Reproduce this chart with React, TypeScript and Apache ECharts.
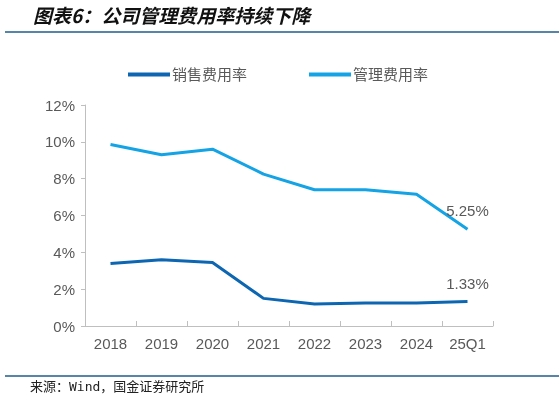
import { useEffect, useRef } from 'react'
import * as echarts from 'echarts'

const categories = ['2018', '2019', '2020', '2021', '2022', '2023', '2024', '25Q1']
const salesRate = [3.4, 3.6, 3.45, 1.5, 1.2, 1.25, 1.25, 1.33]
const adminRate = [9.85, 9.3, 9.6, 8.25, 7.4, 7.4, 7.15, 5.25]
const seriesNames = ['销售费用率', '管理费用率']
const title = '图表6：公司管理费用率持续下降'
const source = '来源：Wind，国金证券研究所'

const DARK = '#0c66b1'
const LIGHT = '#14a3e5'
const TEXT = '#595959'
const RULE = '#1f5d8c'

// 只给最后一个点加数值标签
function lastLabel(data: number[]) {
  return data.map((v, i) =>
    i === data.length - 1
      ? {
          value: v,
          label: {
            show: true,
            position: 'top',
            distance: 11,
            formatter: (p: any) => Number(p.value).toFixed(2) + '%',
            color: TEXT,
            fontSize: 15,
          },
        }
      : v,
  )
}

export default function App() {
  const elRef = useRef<HTMLDivElement>(null)

  useEffect(() => {
    if (!elRef.current) return
    const chart = echarts.init(elRef.current, undefined, { renderer: 'svg' })
    chart.setOption({
      animation: false,
      textStyle: { fontFamily: 'Arial, "Liberation Sans", "Noto Sans CJK SC", sans-serif' },
      grid: { left: 85, right: 66, top: 105, bottom: 80 },
      legend: {
        left: 123,
        top: 62,
        icon: 'rect',
        itemWidth: 42,
        itemHeight: 4,
        itemGap: 62,
        textStyle: { color: TEXT, fontSize: 15, padding: [0, 0, 0, -3] },
        data: seriesNames,
      },
      xAxis: {
        type: 'category',
        data: categories,
        boundaryGap: true,
        axisLine: { lineStyle: { color: '#bfbfbf' } },
        axisTick: { show: true, inside: true, length: 5, lineStyle: { color: '#bfbfbf' } },
        axisLabel: { color: TEXT, fontSize: 15, margin: 10 },
      },
      yAxis: {
        type: 'value',
        min: 0,
        max: 12,
        interval: 2,
        axisLine: { show: true, lineStyle: { color: '#bfbfbf' } },
        axisTick: { show: true, length: 4, lineStyle: { color: '#bfbfbf' } },
        splitLine: { show: false },
        axisLabel: { color: TEXT, fontSize: 15, margin: 10, formatter: '{value}%' },
      },
      series: [
        {
          name: seriesNames[0],
          type: 'line',
          data: lastLabel(salesRate),
          symbol: 'circle',
          symbolSize: 0,
          showSymbol: true,
          lineStyle: { color: DARK, width: 3 },
          itemStyle: { color: DARK },
        },
        {
          name: seriesNames[1],
          type: 'line',
          data: lastLabel(adminRate),
          symbol: 'circle',
          symbolSize: 0,
          showSymbol: true,
          lineStyle: { color: LIGHT, width: 3 },
          itemStyle: { color: LIGHT },
        },
      ],
      graphic: [
        {
          type: 'text',
          left: 33,
          top: 5,
          style: {
            text: title,
            fontSize: 19,
            fontWeight: 'bold',
            fontStyle: 'italic',
            fill: '#111',
            fontFamily: '"Noto Sans CJK SC", sans-serif',
          },
        },
        {
          type: 'line',
          shape: { x1: 5, y1: 32, x2: 559, y2: 32 },
          style: { stroke: RULE, lineWidth: 1.5 },
        },
        {
          type: 'line',
          shape: { x1: 5, y1: 376, x2: 559, y2: 376 },
          style: { stroke: RULE, lineWidth: 1.5 },
        },
        {
          type: 'text',
          left: 30,
          top: 380,
          style: {
            text: source,
            fontSize: 13,
            fill: '#222',
            fontFamily: '"DejaVu Sans Mono", "Noto Sans CJK SC", monospace',
          },
        },
      ],
    })
    return () => chart.dispose()
  }, [])

  return <div ref={elRef} style={{ width: 559, height: 406, position: 'fixed', left: 0, top: 0 }} />
}
